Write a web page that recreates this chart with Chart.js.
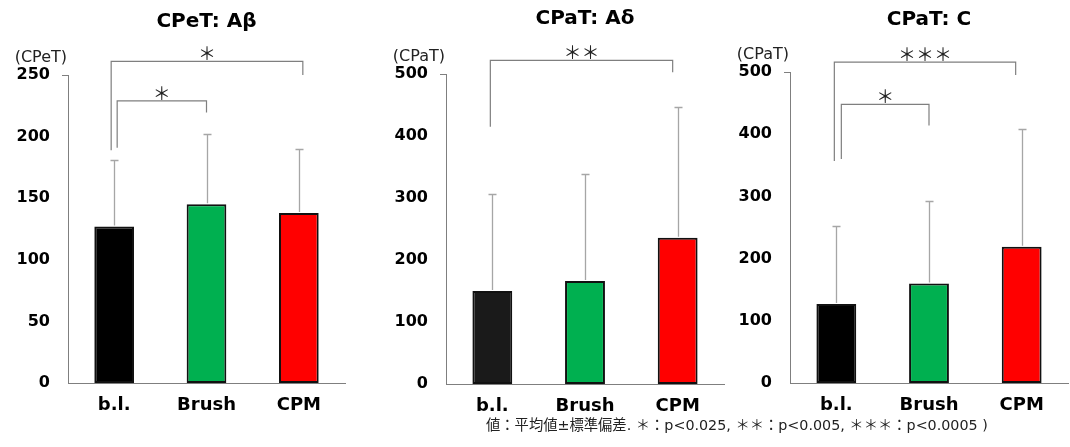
<!DOCTYPE html>
<html><head><meta charset="utf-8">
<script src="https://cdn.jsdelivr.net/npm/chart.js@4.4.0/dist/chart.umd.min.js"></script>
<style>
html,body{margin:0;padding:0;background:#fff;width:1070px;height:447px;overflow:hidden;}
canvas{position:absolute;left:0;top:0;}
#note{position:absolute;left:486px;top:413px;font:14.3px "DejaVu Sans","Noto Sans CJK JP";color:#222;white-space:nowrap;}
</style></head><body>
<canvas id="c0" width="1070" height="447"></canvas>
<canvas id="c1" width="1070" height="447"></canvas>
<canvas id="c2" width="1070" height="447"></canvas>
<div id="note">値：平均値±標準偏差. ＊：p&lt;0.025, ＊＊：p&lt;0.005, ＊＊＊：p&lt;0.0005 )</div>
<script>
// ---- data ----
const categories = ['b.l.', 'Brush', 'CPM'];
const titles = ['CPeT: Aβ', 'CPaT: Aδ', 'CPaT: C'];
const unitLabels = ['(CPeT)', '(CPaT)', '(CPaT)'];
const yMaxValues = [250, 500, 500];
const yStepValues = [50, 100, 100];

const cpetABetaMean = [127, 145, 138];
const cpetABetaSD = [54, 57, 52];
const cpatADeltaMean = [150, 166, 236];
const cpatADeltaSD = [157, 173, 210];
const cpatCMean = [127, 160, 219];
const cpatCSD = [126, 133, 189];

// brackets: [fromIndex, toIndex, topValue, leftLegEndValue, rightLegEndValue, label]
const cpetABetaBrackets = [[0, 2, 261, 189, 250, '＊'], [0, 1, 229, 191, 219.5, '＊']];
const cpatADeltaBrackets = [[0, 2, 522, 415, 503, '＊＊']];
const cpatCBrackets = [[0, 2, 516, 357, 495, '＊＊＊'], [0, 1, 448, 360, 414, '＊']];

// ---- style / layout ----
const barColors = [
  ['#000000', '#00b050', '#ff0000'],
  ['#1a1a1a', '#00b050', '#ff0000'],
  ['#000000', '#00b050', '#ff0000']
];
const areas = [ // chart area in px: left, right, top, bottom
  {l: 68, r: 345, t: 75, b: 383},
  {l: 446, r: 724, t: 74, b: 384},
  {l: 790, r: 1068, t: 72, b: 383}
];
const titleY = [22, 19, 20];
const bracketOffsets = [ // pixel offsets of bracket legs from category centers
  [[-3, 4], [3, 0]],
  [[-2, -5]],
  [[-2, -6], [5, 0]]
];
const panels = [
  {mean: cpetABetaMean, sd: cpetABetaSD, br: cpetABetaBrackets},
  {mean: cpatADeltaMean, sd: cpatADeltaSD, br: cpatADeltaBrackets},
  {mean: cpatCMean, sd: cpatCSD, br: cpatCBrackets}
];

const Y_W = 60, X_H = 40;

const decor = {
  id: 'decor',
  afterDatasetsDraw(chart, args, opts) {
    const p = opts.panel, k = opts.k;
    const ctx = chart.ctx, xs = chart.scales.x, ys = chart.scales.y, ca = chart.chartArea;
    ctx.save();
    // error bars
    ctx.strokeStyle = '#a6a6a6';
    ctx.lineWidth = 1.3;
    p.mean.forEach((m, i) => {
      const x = Math.round(xs.getPixelForValue(i)) + 0.5;
      const y0 = ys.getPixelForValue(m) - 1;
      const y1 = Math.round(ys.getPixelForValue(m + p.sd[i])) + 0.5;
      ctx.beginPath();
      ctx.moveTo(x, y0); ctx.lineTo(x, y1);
      ctx.moveTo(x - 4, y1); ctx.lineTo(x + 4, y1);
      ctx.stroke();
    });
    // brackets
    ctx.strokeStyle = '#7f7f7f';
    ctx.lineWidth = 1.2;
    ctx.fillStyle = '#222';
    ctx.font = '18px "Noto Sans CJK JP"';
    ctx.textAlign = 'center';
    ctx.textBaseline = 'middle';
    p.br.forEach((b, j) => {
      const off = bracketOffsets[k][j];
      const xl = xs.getPixelForValue(b[0]) + off[0];
      const xr = xs.getPixelForValue(b[1]) + off[1];
      const yt = ys.getPixelForValue(b[2]);
      ctx.beginPath();
      ctx.moveTo(xl, ys.getPixelForValue(b[3]));
      ctx.lineTo(xl, yt);
      ctx.lineTo(xr, yt);
      ctx.lineTo(xr, ys.getPixelForValue(b[4]));
      ctx.stroke();
      ctx.fillText(b[5], (xl + xr) / 2, yt - 8);
    });
    // top hook on y axis
    ctx.strokeStyle = '#7f7f7f';
    ctx.lineWidth = 1;
    ctx.beginPath();
    ctx.moveTo(ca.left - 6, Math.round(ca.top) + 0.5);
    ctx.lineTo(ca.left, Math.round(ca.top) + 0.5);
    ctx.stroke();
    // title
    ctx.fillStyle = '#000';
    ctx.font = 'bold 20px "DejaVu Sans"';
    ctx.textAlign = 'center';
    ctx.fillText(titles[k], (ca.left + ca.right) / 2, titleY[k]);
    // unit label
    ctx.fillStyle = '#222';
    ctx.font = '16px "DejaVu Sans"';
    ctx.textAlign = 'right';
    ctx.fillText(unitLabels[k], ca.left - 1, ca.top - 17);
    ctx.restore();
  }
};

panels.forEach((p, k) => {
  const a = areas[k];
  new Chart(document.getElementById('c' + k), {
    type: 'bar',
    data: {
      labels: categories,
      datasets: [{
        data: p.mean,
        backgroundColor: barColors[k],
        borderColor: '#111',
        borderWidth: 2,
        borderSkipped: false,
        barPercentage: 0.43,
        categoryPercentage: 1
      }]
    },
    options: {
      responsive: false,
      animation: false,
      events: [],
      layout: {padding: {left: a.l - Y_W, right: 1070 - a.r, top: a.t, bottom: 447 - a.b - X_H}},
      plugins: {legend: {display: false}, tooltip: {enabled: false}, title: {display: false}, decor: {panel: p, k: k}},
      scales: {
        x: {
          afterFit(s) { s.height = X_H; },
          grid: {display: false, drawTicks: false},
          border: {display: true, color: '#7f7f7f', width: 1},
          ticks: {color: '#000', font: {family: 'DejaVu Sans', size: 18, weight: 'bold'}, padding: 12}
        },
        y: {
          min: 0, max: yMaxValues[k],
          afterFit(s) { s.width = Y_W; },
          grid: {display: false, drawTicks: false},
          border: {display: true, color: '#7f7f7f', width: 1},
          ticks: {stepSize: yStepValues[k], color: '#000', font: {family: 'DejaVu Sans', size: 16, weight: 'bold'}, padding: 18}
        }
      }
    },
    plugins: [decor]
  });
});
</script>
</body></html>
